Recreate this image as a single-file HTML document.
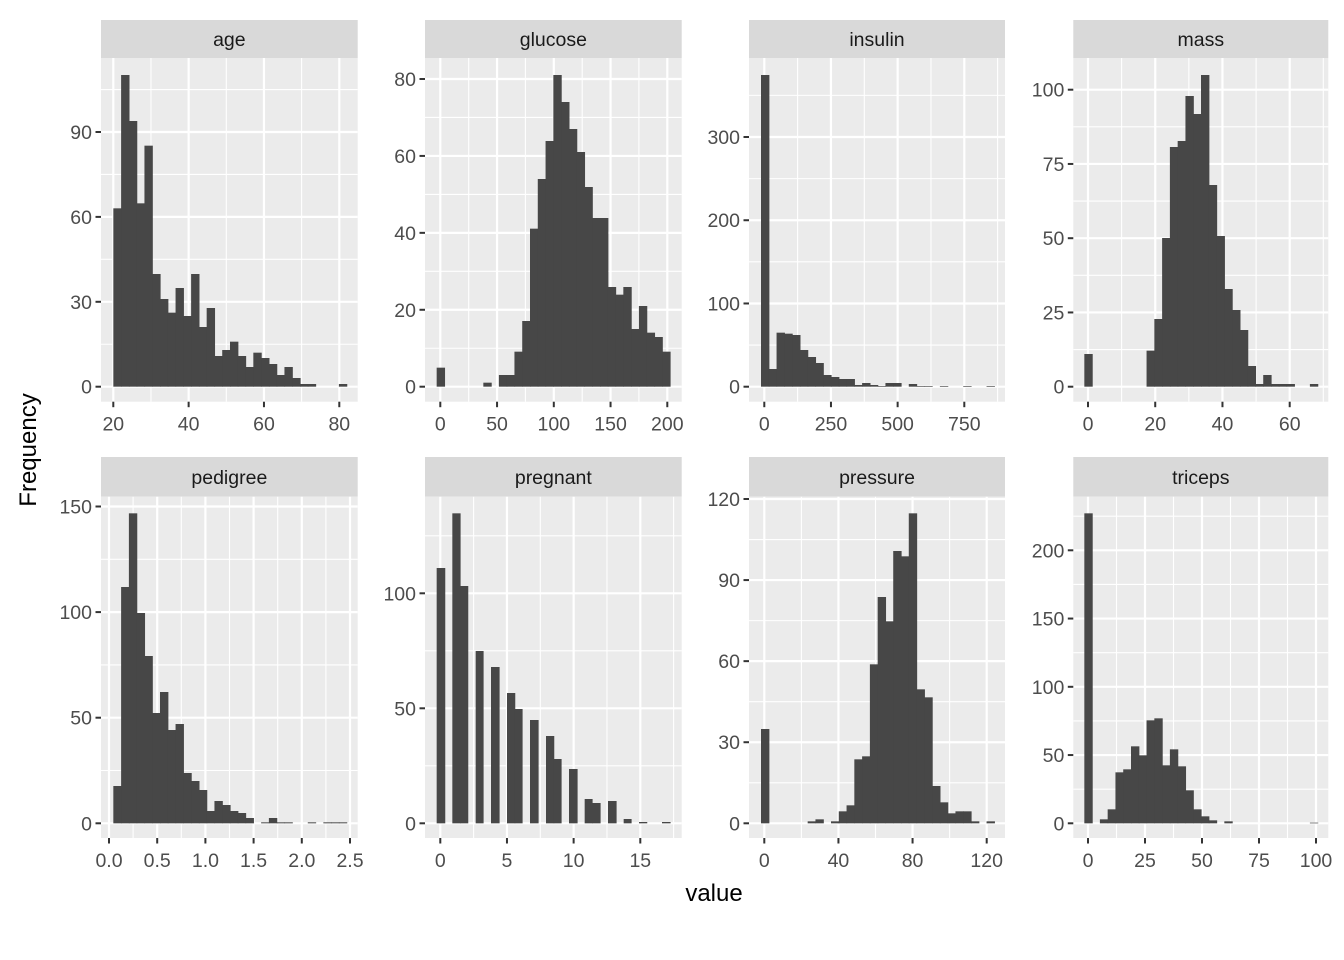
<!DOCTYPE html>
<html><head><meta charset="utf-8"><style>
html,body{margin:0;padding:0;background:#fff;}
svg{display:block;font-family:"Liberation Sans",Arial,sans-serif;}
</style></head><body>
<svg id="s" width="1344" height="960" viewBox="0 0 1344 960" xmlns="http://www.w3.org/2000/svg">
<rect width="1344" height="960" fill="#fff"/>
<text x="714" y="901" font-size="24" text-anchor="middle" fill="#000">value</text>
<text transform="translate(36,450) rotate(-90)" font-size="24" text-anchor="middle" fill="#000">Frequency</text>
</svg>
<script>
var S=document.getElementById('s'),NS='http://www.w3.org/2000/svg';
function el(t,a,txt){var e=document.createElementNS(NS,t);for(var k in a)e.setAttribute(k,a[k]);if(txt!==undefined)e.textContent=txt;S.appendChild(e);return e;}
var P=[
{name:"age",L:101,R:357.7,T:58,B:401.7,st:20,ox:60,oy:55,xm:[20,113.3,80,339.3],ym:[0,386.7,90,132],xt:[20,40,60,80],yt:[0,30,60,90],
 left:160,right:860,base:995,tops:[460,60,198,445,272,657,732,773,699,783,657,816,759,903,885,860,903,936,893,909,927,960,936,969,987,987,995,995,995,987]},
{name:"glucose",L:425,R:681.7,T:58,B:401.7,st:20,ox:380,oy:55,xm:[0,440.3,200,667.3],ym:[0,386.7,80,79],xt:[0,50,100,150,200],yt:[0,20,40,60,80],
 left:170,right:870,base:995,tops:[938,995,995,995,995,995,983,995,960,960,890,798,521,372,258,60,141,222,291,396,489,489,696,719,696,822,753,833,846,890]},
{name:"insulin",L:749,R:1005,T:58,B:401.7,st:20,ox:700,oy:55,xm:[0,764.3,750,964.3],ym:[0,386.7,300,137],xt:[0,250,500,750],yt:[0,100,200,300],
 left:183,right:883,base:995,tops:[60,942,833,836,840,885,906,924,960,966,972,972,990,984,990,993,984,984,995,987,993,993,995,993,995,995,993,995,995,993]},
{name:"mass",L:1073.3,R:1328.3,T:58,B:401.7,st:20,ox:1020,oy:55,xm:[0,1088,60,1289.7],ym:[0,386.7,100,89.7],xt:[0,20,40,60],yt:[0,25,50,75,100],
 left:193,right:893,base:995,tops:[897,995,995,995,995,995,995,995,887,792,549,276,258,123,177,60,390,543,702,765,825,933,987,960,987,987,987,995,995,987]},
{name:"pedigree",L:101,R:357.7,T:496.7,B:838,st:457,ox:60,oy:490,xm:[0,109,2.5,350],ym:[0,823.3,50,717.7],xt:[0,0.5,1,1.5,2,2.5],xl:["0.0","0.5","1.0","1.5","2.0","2.5"],yt:[0,50,100,150],
 left:160,right:860,base:1000,tops:[888,291,70,369,498,669,606,720,702,849,873,900,963,933,945,963,969,984,1000,997,984,997,997,1000,1000,997,1000,997,997,997]},
{name:"pregnant",L:425,R:681.7,T:496.7,B:838,st:457,ox:380,oy:490,xm:[0,440.3,15,640.3],ym:[0,823.3,100,593.3],xt:[0,5,10,15],yt:[0,50,100],
 base:1000,bars:[[170,194,234],[217,240,70],[240,263,288],[287,309,483],[333,357,531],[381,404,609],[404,426,657],[450,474,690],[498,521,738],[521,543,807],[567,591,837],[614,636,927],[636,660,939],[684,708,933],[731,753,987],[777,800,996],[846,870,996]]},
{name:"pressure",L:749,R:1005,T:496.7,B:838,st:457,ox:700,oy:490,xm:[0,764.3,120,986.7],ym:[0,823.3,120,499],xt:[0,40,80,120],yt:[0,30,60,90,120],
 left:183,right:883,base:1000,tops:[717,1000,1000,1000,1000,1000,994,988,1000,994,964,946,808,799,523,321,394,183,199,70,598,622,888,937,970,964,964,994,1000,994]},
{name:"triceps",L:1073.3,R:1328.3,T:496.7,B:838,st:457,ox:1020,oy:490,xm:[0,1088,100,1316],ym:[0,823.3,200,550.3],xt:[0,25,50,75,100],yt:[0,50,100,150,200],
 left:193,right:893,base:1000,tops:[70,1000,988,958,847,838,769,796,691,685,826,778,829,901,958,979,991,1000,994,1000,1000,1000,1000,1000,1000,1000,1000,1000,1000,998]}
];
P.forEach(function(p){
 var fx=function(v){return p.xm[1]+(v-p.xm[0])*(p.xm[3]-p.xm[1])/(p.xm[2]-p.xm[0]);};
 var fy=function(v){return p.ym[1]+(v-p.ym[0])*(p.ym[3]-p.ym[1])/(p.ym[2]-p.ym[0]);};
 el('rect',{x:p.L,y:p.st,width:p.R-p.L,height:p.T-p.st,fill:'#D9D9D9'});
 el('text',{x:(p.L+p.R)/2,y:(p.st+p.T)/2+7,'font-size':19.5,'text-anchor':'middle',fill:'#1A1A1A'},p.name);
 el('rect',{x:p.L,y:p.T,width:p.R-p.L,height:p.B-p.T,fill:'#EBEBEB'});
 var dx=p.xt[1]-p.xt[0],dy=p.yt[1]-p.yt[0];
 for(var v=p.xt[0]-dx/2;v<=p.xt[p.xt.length-1]+dx;v+=dx){var x=fx(v);if(x>p.L&&x<p.R)el('line',{x1:x,x2:x,y1:p.T,y2:p.B,stroke:'#fff','stroke-width':1.1});}
 for(var v=p.yt[0]-dy/2;v<=p.yt[p.yt.length-1]+dy*2;v+=dy){var y=fy(v);if(y>p.T&&y<p.B)el('line',{y1:y,y2:y,x1:p.L,x2:p.R,stroke:'#fff','stroke-width':1.1});}
 p.xt.forEach(function(v,i){var x=fx(v);el('line',{x1:x,x2:x,y1:p.T,y2:p.B,stroke:'#fff','stroke-width':2.2});
  el('line',{x1:x,x2:x,y1:p.B,y2:p.B+5.5,stroke:'#333','stroke-width':2});
  el('text',{x:x,y:p.B+29,'font-size':19.5,'text-anchor':'middle',fill:'#4D4D4D'},p.xl?p.xl[i]:String(v));});
 p.yt.forEach(function(v){var y=fy(v);el('line',{y1:y,y2:y,x1:p.L,x2:p.R,stroke:'#fff','stroke-width':2.2});
  el('line',{y1:y,y2:y,x1:p.L-5.5,x2:p.L,stroke:'#333','stroke-width':2});
  el('text',{x:p.L-9,y:y+7,'font-size':19.5,'text-anchor':'end',fill:'#4D4D4D'},String(v));});
 var by=p.oy+p.base/3;
 var bars=p.bars||p.tops.map(function(t,i){var w=(p.right-p.left)/30;return [p.left+i*w,p.left+(i+1)*w,t];});
 bars.forEach(function(b,i){if(b[2]>=p.base)return;var x1=p.ox+b[0]/3,x2=p.ox+b[1]/3+0.6,ty=p.oy+b[2]/3;
  el('rect',{x:x1,y:ty,width:x2-x1,height:by-ty,fill:'#474747'});});
});
</script>
</body></html>
